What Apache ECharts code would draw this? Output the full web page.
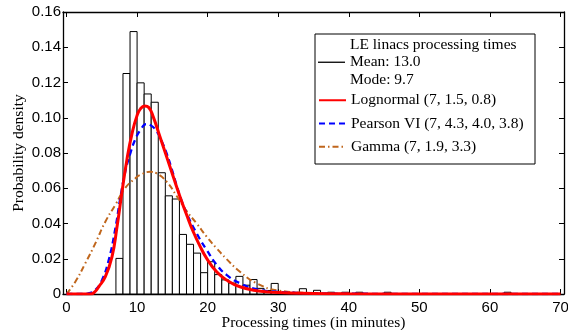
<!DOCTYPE html>
<html>
<head>
<meta charset="utf-8">
<script src="https://cdn.jsdelivr.net/npm/echarts@6/dist/echarts.min.js"></script>
<style>
html,body{margin:0;padding:0;background:#fff;}
#chart{width:568px;height:330px;}
</style>
</head>
<body>
<div id="chart"></div>
<script>
// ---- data ----
const xTicks = [0, 10, 20, 30, 40, 50, 60, 70];
const binStart = [7, 8, 9, 10, 11, 12, 13, 14, 15, 16, 17, 18, 19, 20, 21, 22, 23, 24, 25, 26, 27, 28, 29, 33, 35, 37, 39, 41, 45, 62];
const binHeight = [0.0202, 0.1251, 0.1489, 0.1198, 0.1135, 0.1088, 0.0688, 0.0557, 0.0539, 0.0338, 0.0282, 0.0232, 0.0121, 0.0183, 0.0110, 0.0080, 0.0062, 0.0100, 0.0050, 0.0082, 0.0032, 0.0020, 0.0060, 0.0030, 0.0021, 0.0010, 0.0010, 0.0010, 0.0010, 0.0010];
const binWidth = 1;

const lognormX = [0, 3.4, 4.0, 4.56, 5.5, 6.44, 7.15, 7.86, 8.57, 9.28, 9.99, 10.5, 11.1, 11.64, 12.29, 13.24, 14.19, 15.13, 16.08, 17.03, 17.96, 18.91, 19.86, 21.27, 22.69, 24.58, 26.94, 30, 35, 40, 50, 70];
const lognormY = [0, 0, 0.0012, 0.0041, 0.0098, 0.0211, 0.038, 0.058, 0.0765, 0.091, 0.1012, 0.1052, 0.1066, 0.1059, 0.1005, 0.0892, 0.0778, 0.0665, 0.0552, 0.0448, 0.0353, 0.0272, 0.0202, 0.0126, 0.0079, 0.0041, 0.0019, 0.0008, 0.0003, 0.0001, 0, 0];

const pearsonX = [0, 2.2, 3.2, 4.08, 5.03, 5.98, 6.91, 7.62, 8.33, 9.04, 9.75, 10.5, 11.3, 12.0, 12.8, 13.5, 14.2, 14.9, 15.61, 16.3, 17.03, 18.44, 19.86, 21.27, 22.69, 24.58, 26.94, 30, 35, 40, 50, 70];
const pearsonY = [0, 0, 0.0005, 0.0023, 0.008, 0.0193, 0.037, 0.0545, 0.0695, 0.0798, 0.0878, 0.0932, 0.0964, 0.0955, 0.0922, 0.0866, 0.0796, 0.071, 0.0615, 0.053, 0.0457, 0.0344, 0.025, 0.0166, 0.0108, 0.0061, 0.0027, 0.0012, 0.0004, 0.0002, 0.00005, 0];

const gammaX = [0, 1.25, 2.66, 4.08, 5.5, 6.91, 8.33, 9.75, 10.41, 11.83, 12.78, 14.19, 15.61, 17.03, 18.44, 19.86, 21.27, 22.69, 24.58, 26.94, 30, 35, 40, 50, 70];
const gammaY = [0, 0.007, 0.0174, 0.0287, 0.041, 0.0505, 0.0602, 0.0656, 0.0675, 0.0693, 0.0684, 0.0637, 0.0556, 0.047, 0.040, 0.0325, 0.0259, 0.0198, 0.0126, 0.0061, 0.002, 0.0005, 0.0001, 0, 0];

const histName = 'LE linacs processing times\nMean: 13.0\nMode: 9.7';
const seriesNames = ['Lognormal (7, 1.5, 0.8)', 'Pearson VI (7, 4.3, 4.0, 3.8)', 'Gamma (7, 1.9, 3.3)'];
const xName = 'Processing times (in minutes)';
const yName = 'Probability density';

// ---- build ----
const zip = (xs, ys) => xs.map((x, i) => [x, ys[i]]);
const histData = binStart.map((s, i) => [s, s + binWidth, binHeight[i]]);
const serif = '"Liberation Serif", "DejaVu Serif", serif';
const sans = '"Liberation Sans", Arial, sans-serif';

const chart = echarts.init(document.getElementById('chart'), null, {renderer: 'canvas'});
const tickCommon = {inside: true, length: 5, lineStyle: {color: '#000', width: 1}};
chart.setOption({
  animation: false,
  backgroundColor: '#fff',
  grid: {left: 63, right: 4, top: 12, bottom: 36, containLabel: false, outerBoundsMode: 'none'},
  xAxis: [{
    type: 'value', min: -0.5, max: 70.5, position: 'bottom',
    axisLine: {onZero: false, lineStyle: {color: '#000', width: 1.3}},
    axisTick: Object.assign({customValues: xTicks}, tickCommon),
    axisLabel: {customValues: xTicks, color: '#000', fontFamily: sans, fontSize: 15, margin: 6},
    splitLine: {show: false},
    name: xName, nameLocation: 'middle', nameGap: 21, nameMoveOverlap: false,
    nameTextStyle: {fontFamily: serif, fontSize: 15.5, color: '#000'}
  }, {
    type: 'value', min: -0.5, max: 70.5, position: 'top',
    axisLine: {onZero: false, lineStyle: {color: '#000', width: 1.3}},
    axisTick: Object.assign({customValues: xTicks}, tickCommon),
    axisLabel: {show: false}, splitLine: {show: false}
  }],
  yAxis: [{
    type: 'value', min: 0, max: 0.16, interval: 0.02, position: 'left',
    axisLine: {show: true, onZero: false, lineStyle: {color: '#000', width: 1.3}},
    axisTick: Object.assign({show: true}, tickCommon),
    axisLabel: {color: '#000', fontFamily: sans, fontSize: 15, margin: 2,
      formatter: v => v === 0 ? '0' : v.toFixed(2)},
    splitLine: {show: false},
    name: yName, nameLocation: 'middle', nameGap: 36, nameMoveOverlap: false,
    nameTextStyle: {fontFamily: serif, fontSize: 15.5, color: '#000'}
  }, {
    type: 'value', min: 0, max: 0.16, interval: 0.02, position: 'right',
    axisLine: {show: true, onZero: false, lineStyle: {color: '#000', width: 1.3}},
    axisTick: Object.assign({show: true}, tickCommon),
    axisLabel: {show: false}, splitLine: {show: false}
  }],
  legend: [{
    orient: 'vertical', left: 318, top: 36, padding: 0,
    itemWidth: 27, itemHeight: 1.3,
    data: [{name: histName, icon: 'rect', itemStyle: {color: '#000', borderWidth: 0}}],
    textStyle: {fontFamily: serif, fontSize: 15.5, lineHeight: 17.5, color: '#000'}
  }, {
    orient: 'vertical', left: 318, top: 91.5, padding: 0,
    itemWidth: 27, itemHeight: 14, itemGap: 5.8,
    itemStyle: {opacity: 0},
    data: seriesNames,
    textStyle: {fontFamily: serif, fontSize: 15.5, lineHeight: 17.5, color: '#000'}
  }],
  graphic: [{
    type: 'rect', left: 312.5, top: 31.5, z: 100, silent: true,
    shape: {width: 220, height: 130},
    style: {fill: 'none', stroke: '#000', lineWidth: 1}
  }],
  series: [{
    name: histName, type: 'custom', z: 1,
    data: histData,
    encode: {x: [0, 1], y: 2},
    itemStyle: {color: '#fff', borderColor: '#000'},
    renderItem: function (params, api) {
      const p1 = api.coord([api.value(0), api.value(2)]);
      const p2 = api.coord([api.value(1), 0]);
      return {type: 'rect', shape: {x: p1[0], y: p1[1], width: p2[0] - p1[0], height: p2[1] - p1[1]},
        style: {fill: '#fff', stroke: '#000', lineWidth: 1}};
    }
  }, {
    name: seriesNames[2], type: 'line', z: 3, symbol: 'none', smooth: 0.5,
    data: zip(gammaX, gammaY), color: '#c0661c',
    lineStyle: {color: '#c0661c', width: 2, type: [6, 3, 1.5, 3]}
  }, {
    name: seriesNames[1], type: 'line', z: 4, symbol: 'none', smooth: 0.5,
    data: zip(pearsonX, pearsonY), color: '#0000ff',
    lineStyle: {color: '#0000ff', width: 2.3, type: [6, 4]}
  }, {
    name: seriesNames[0], type: 'line', z: 5, symbol: 'none', smooth: 0.5,
    data: zip(lognormX, lognormY), color: '#ff0000',
    lineStyle: {color: '#ff0000', width: 3}
  }]
});
</script>
</body>
</html>
